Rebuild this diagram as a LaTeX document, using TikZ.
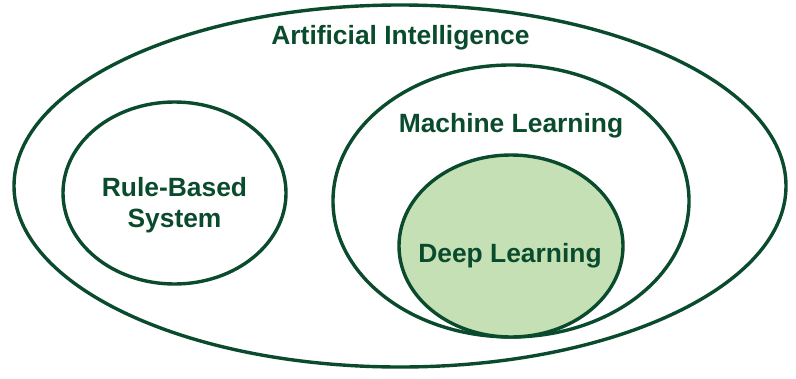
\documentclass[tikz,border=0pt]{standalone}
\usepackage{fontspec}
\setmainfont{Liberation Sans}
\usepackage{tikz}
\usepackage{xcolor}
\usetikzlibrary{shapes.geometric,positioning}
\definecolor{darkgreen}{RGB}{10,75,45}
\definecolor{lightgreen}{RGB}{197,224,180}

\begin{document}
\begin{tikzpicture}[x=1bp,y=1bp,
  blob/.style={ellipse,draw=darkgreen,line width=3.4bp,inner sep=0pt},
  lbl/.style={font=\fontsize{26.5}{31}\selectfont\bfseries,text=darkgreen,align=center}]
\useasboundingbox (0,0) rectangle (796,378);
\node[blob,minimum width=772bp,minimum height=362bp] (ai) at (400,192) {};
\node[blob,minimum width=223bp,minimum height=182bp] (rb) at (174.5,185) {};
\node[blob,minimum width=356bp,minimum height=272bp] (ml) at (511,177) {};
\node[blob,fill=lightgreen,minimum width=224bp,minimum height=182bp] (dl) at (511,132) {};
\node[lbl] (ailbl) at (400.5,340) {Artificial Intelligence};
\node[lbl] (rblbl) at (174.5,172.5) {Rule-Based\\System};
\node[lbl] (mllbl) at (511,252) {Machine Learning};
\node[lbl] (dllbl) at (510,122) {Deep Learning};
\end{tikzpicture}
\end{document}
